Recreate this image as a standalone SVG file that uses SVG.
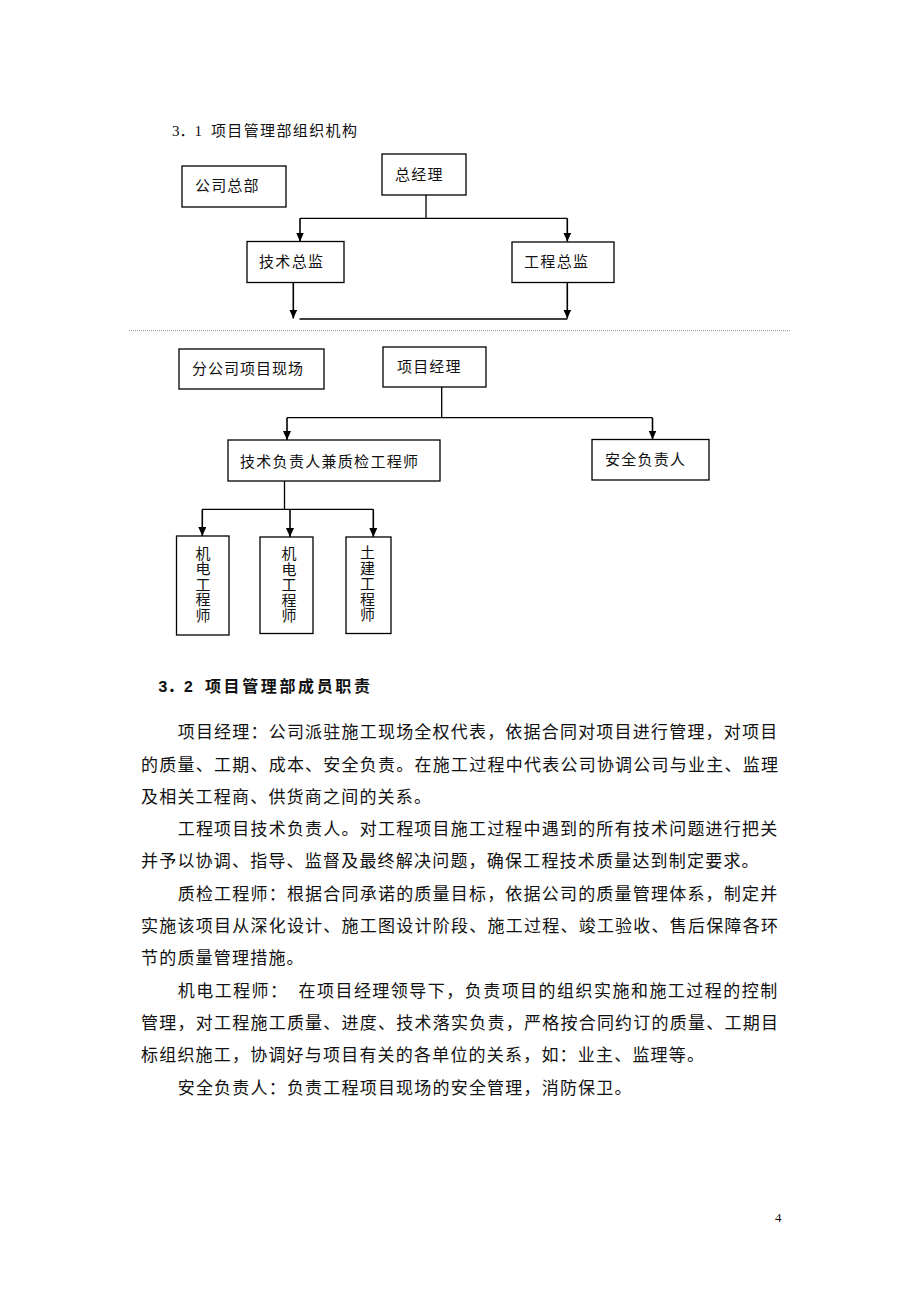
<svg xmlns="http://www.w3.org/2000/svg" width="920" height="1302" viewBox="0 0 920 1302">
<style>
.box{fill:#fff;stroke:#000;stroke-width:1.3}
.lbl{font-family:"Noto Sans CJK SC",sans-serif;font-size:15px;fill:#111}
.vl{font-family:"Noto Sans CJK SC",sans-serif;font-size:15px;fill:#111;writing-mode:vertical-rl;letter-spacing:0.5px}
.ln{fill:none;stroke:#000;stroke-width:1.3}
.ar{fill:none;stroke:#000;stroke-width:1.6;marker-end:url(#ah)}
.body{font-family:"Noto Sans CJK SC",sans-serif;font-size:17px;fill:#111}
.ttl{font-family:"Liberation Serif","Noto Sans CJK SC",serif;font-size:15px;fill:#111}
.ttl2{font-family:"Liberation Mono","Noto Sans CJK SC",monospace;font-size:16px;font-weight:bold;fill:#111}
</style>
<defs>
<marker id="ah" viewBox="0 0 10 10" refX="10" refY="5" markerWidth="9" markerHeight="8" markerUnits="userSpaceOnUse" orient="auto" preserveAspectRatio="none">
<path d="M0,0 L10,5 L0,10 z" fill="#000"/>
</marker>
</defs>
<rect width="920" height="1302" fill="#fff"/>

<text class="ttl" y="135.7"><tspan x="172">3．1</tspan><tspan x="211" textLength="146" lengthAdjust="spacing">项目管理部组织机构</tspan></text>

<g id="connectors">
<path class="ln" d="M426,195 V219 M300,218.3 H567.3"/>
<path class="ar" d="M300,218.3 V241.5"/>
<path class="ar" d="M567.3,218.3 V241.5"/>
<path class="ar" d="M293.3,282.5 V318.5"/>
<path class="ar" d="M567.3,282.5 V318.5"/>
<path class="ln" d="M299.5,319 H567.3"/>
<path d="M129,330.7 H790" stroke="#8a8a8a" stroke-width="1" stroke-dasharray="1 1" fill="none"/>
<path class="ln" d="M441.7,387 V418 M287,417.7 H652.5"/>
<path class="ar" d="M287,417.7 V440"/>
<path class="ar" d="M652.5,417.7 V439.5"/>
<path class="ln" d="M284.5,481 V509.3 M202.3,509.3 H373.3"/>
<path class="ar" d="M202.3,509.3 V536"/>
<path class="ar" d="M290,509.3 V537"/>
<path class="ar" d="M373.3,509.3 V537"/>
</g>

<g id="n-gszb"><rect class="box" x="182" y="166" width="104" height="41"/><text class="lbl" x="195" y="190.7" textLength="63.5" lengthAdjust="spacing">公司总部</text></g>
<g id="n-zjl"><rect class="box" x="382" y="154" width="84" height="41"/><text class="lbl" x="395" y="180" textLength="47.5" lengthAdjust="spacing">总经理</text></g>
<g id="n-jszj"><rect class="box" x="247" y="241.5" width="97" height="41"/><text class="lbl" x="259" y="266.7" textLength="64" lengthAdjust="spacing">技术总监</text></g>
<g id="n-gczj"><rect class="box" x="512" y="242" width="102" height="40.5"/><text class="lbl" x="524" y="267.4" textLength="64" lengthAdjust="spacing">工程总监</text></g>

<g id="n-fgs"><rect class="box" x="179" y="349" width="145" height="40"/><text class="lbl" x="192" y="374" textLength="111" lengthAdjust="spacing">分公司项目现场</text></g>
<g id="n-xmjl"><rect class="box" x="383" y="347" width="103" height="40"/><text class="lbl" x="397" y="371.7" textLength="63.5" lengthAdjust="spacing">项目经理</text></g>
<g id="n-jsfzr"><rect class="box" x="228" y="440" width="212" height="41"/><text class="lbl" x="240" y="466.7" textLength="178" lengthAdjust="spacing">技术负责人兼质检工程师</text></g>
<g id="n-aqfzr"><rect class="box" x="592" y="439.5" width="117" height="40.5"/><text class="lbl" x="605" y="465" textLength="80" lengthAdjust="spacing">安全负责人</text></g>

<g id="n-jd1"><rect class="box" x="176.5" y="536" width="52.5" height="99"/>
<text class="vl" x="203" y="545.5">机电工程师</text></g>
<g id="n-jd2"><rect class="box" x="260" y="537" width="53" height="96.5"/>
<text class="vl" x="289" y="546.2">机电工程师</text></g>
<g id="n-tj"><rect class="box" x="346" y="537" width="45" height="96.5"/>
<text class="vl" x="367.5" y="545">土建工程师</text></g>

<text class="ttl2" y="692"><tspan x="158">3．2</tspan><tspan x="205" textLength="165" lengthAdjust="spacing">项目管理部成员职责</tspan></text>

<g id="body">
<text class="body" x="177.7" y="738.2" textLength="599.5" lengthAdjust="spacing">项目经理：公司派驻施工现场全权代表，依据合同对项目进行管理，对项目</text>
<text class="body" x="141" y="770.5" textLength="637" lengthAdjust="spacing">的质量、工期、成本、安全负责。在施工过程中代表公司协调公司与业主、监理</text>
<text class="body" x="141" y="802.8" letter-spacing="1.2">及相关工程商、供货商之间的关系。</text>
<text class="body" x="177.7" y="835.1" textLength="599.5" lengthAdjust="spacing">工程项目技术负责人。对工程项目施工过程中遇到的所有技术问题进行把关</text>
<text class="body" x="141" y="867.4" letter-spacing="1.2">并予以协调、指导、监督及最终解决问题，确保工程技术质量达到制定要求。</text>
<text class="body" x="177.7" y="899.7" textLength="599.5" lengthAdjust="spacing">质检工程师：根据合同承诺的质量目标，依据公司的质量管理体系，制定并</text>
<text class="body" x="141" y="932" textLength="637" lengthAdjust="spacing">实施该项目从深化设计、施工图设计阶段、施工过程、竣工验收、售后保障各环</text>
<text class="body" x="141" y="964.3" letter-spacing="1.2">节的质量管理措施。</text>
<text class="body" x="177.7" y="996.6" textLength="599.5" lengthAdjust="spacing">机电工程师：　在项目经理领导下，负责项目的组织实施和施工过程的控制</text>
<text class="body" x="141" y="1028.9" textLength="637" lengthAdjust="spacing">管理，对工程施工质量、进度、技术落实负责，严格按合同约订的质量、工期目</text>
<text class="body" x="141" y="1061.2" letter-spacing="1.2">标组织施工，协调好与项目有关的各单位的关系，如：业主、监理等。</text>
<text class="body" x="177.7" y="1093.5" letter-spacing="1.2">安全负责人：负责工程项目现场的安全管理，消防保卫。</text>
</g>

<text x="775" y="1222" font-family="Liberation Serif, serif" font-size="13" fill="#111">4</text>
</svg>
